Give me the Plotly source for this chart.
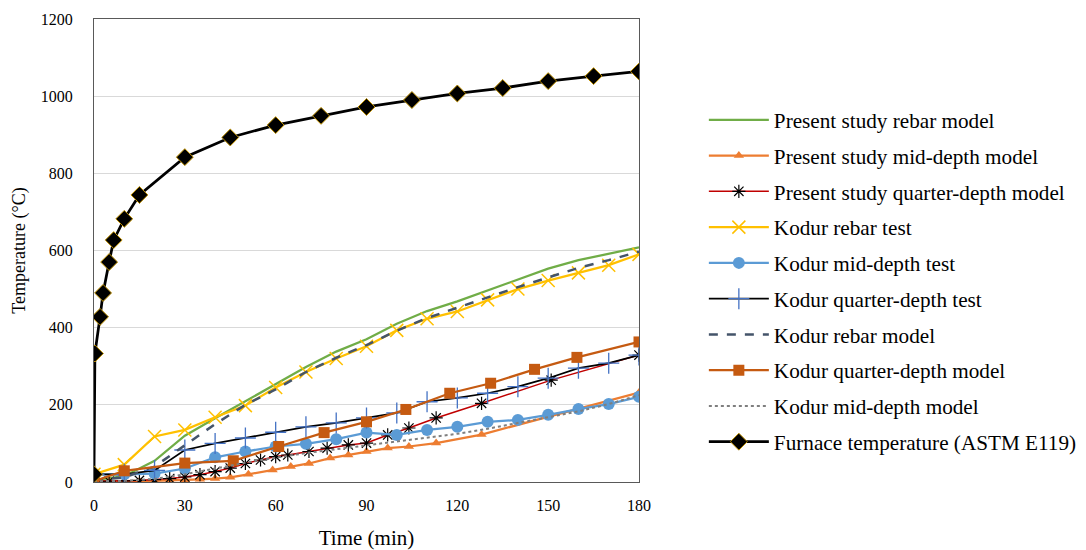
import plotly.graph_objects as go

# ---------------- data ----------------
furnace_t = [0, 0.3, 2, 3, 5, 6.5, 10, 15, 30, 45, 60, 75, 90, 105, 120, 135, 150, 165, 180]
furnace_T = [20, 333, 428, 490, 570, 627, 682, 744, 842, 893, 925, 949, 972, 990, 1007, 1021, 1039, 1052, 1064]

t10 = [0, 10, 20, 30, 40, 50, 60, 70, 80, 90, 100, 110, 120, 130, 140, 150, 160, 170, 180]

ps_rebar_T = [5, 15, 55, 120, 165, 210, 255, 298, 338, 370, 410, 443, 468, 497, 524, 553, 575, 592, 608]

ps_mid_t = [0, 5, 10, 15, 20, 25, 30, 35, 40, 45, 51, 59, 65, 71, 78, 84, 90, 97, 104, 113, 128, 180]
ps_mid_T = [2, 2, 2, 2, 3, 4, 5, 7, 9, 12, 20, 31, 40, 48, 62, 70, 79, 88, 92, 101, 123, 232]

ps_quarter_t = [0, 5, 10, 15, 20, 25, 30, 35, 40, 45, 50, 55, 60, 64, 71, 77, 84, 90, 97, 104, 113, 128, 151, 180]
ps_quarter_T = [2, 2, 3, 4, 6, 9, 13, 19, 27, 36, 48, 57, 66, 70, 79, 88, 96, 101, 122, 140, 166, 204, 264, 329]

kodur_rebar_test_T = [20, 45, 118, 135, 168, 198, 245, 285, 320, 352, 393, 423, 442, 472, 500, 522, 542, 562, 590]
kodur_mid_test_T = [20, 20, 22, 35, 64, 79, 92, 99, 111, 128, 122, 135, 143, 156, 161, 174, 189, 202, 221]
kodur_quarter_test_T = [20, 20, 30, 83, 100, 114, 129, 143, 153, 166, 179, 208, 218, 230, 247, 269, 295, 308, 329]
kodur_rebar_model_T = [5, 12, 40, 95, 150, 200, 240, 285, 322, 355, 392, 425, 452, 478, 505, 530, 555, 575, 597]

kodur_quarter_model_t = [0, 10, 30, 46, 61, 76, 90, 103, 117.5, 131, 145.5, 159.5, 180]
kodur_quarter_model_T = [2, 29, 49, 55, 92, 128, 156, 188, 230, 256, 292, 323, 363]

kodur_mid_model_T = [2, 3, 8, 20, 35, 50, 63, 75, 85, 95, 105, 115, 125, 138, 153, 168, 183, 202, 225]

x_ticks = [0, 30, 60, 90, 120, 150, 180]
y_ticks = [0, 200, 400, 600, 800, 1000, 1200]

FONT = "Liberation Serif, Times New Roman, serif"

fig = go.Figure()

def add(name, x, y, color, width=2.25, dash="solid", mode="lines", marker=None):
    fig.add_trace(go.Scatter(
        x=x, y=y, name=name, mode=mode, legendgroup=name,
        line=dict(color=color, width=width, dash=dash),
        marker=marker if marker else dict(),
    ))

add("Present study rebar model", t10, ps_rebar_T, "#70AD47")
add("Present study mid-depth model", ps_mid_t, ps_mid_T, "#ED7D31", mode="lines+markers",
    marker=dict(symbol="triangle-up", size=9, color="#ED7D31"))
add("Present study quarter-depth model", ps_quarter_t, ps_quarter_T, "#C00000", width=1.5,
    mode="lines+markers",
    marker=dict(symbol="asterisk-open", size=11, color="#000000", line=dict(color="#000000", width=1.2)))
add("Kodur rebar test", t10, kodur_rebar_test_T, "#FFC000", mode="lines+markers",
    marker=dict(symbol="x-thin-open", size=13, color="#FFC000", line=dict(color="#FFC000", width=1.5)))
add("Kodur mid-depth test", t10, kodur_mid_test_T, "#5B9BD5", mode="lines+markers",
    marker=dict(symbol="circle", size=12, color="#5B9BD5"))
add("Kodur quarter-depth test", t10, kodur_quarter_test_T, "#000000", width=1.75, mode="lines+markers",
    marker=dict(symbol="cross-thin-open", size=15, color="#4472C4", line=dict(color="#4472C4", width=1.3)))
add("Kodur rebar model", t10, kodur_rebar_model_T, "#44546A", width=2.5, dash="dash")
add("Kodur quarter-depth model", kodur_quarter_model_t, kodur_quarter_model_T, "#C55A11", mode="lines+markers",
    marker=dict(symbol="square", size=11, color="#C55A11"))
add("Kodur mid-depth model", t10, kodur_mid_model_T, "#7F7F7F", width=2, dash="dot")
add("Furnace temperature (ASTM E119)", furnace_t, furnace_T, "#000000", width=2.75, mode="lines+markers",
    marker=dict(symbol="diamond", size=13, color="#000000", line=dict(color="#BF9000", width=1)))

fig.update_layout(
    width=1078, height=542,
    margin=dict(l=86, r=447, t=11, b=68, autoexpand=False),
    paper_bgcolor="white", plot_bgcolor="white",
    font=dict(family=FONT, size=16, color="#000000"),
    showlegend=True,
    legend=dict(
        x=1.119, y=0.826, xanchor="left", yanchor="top",
        font=dict(family=FONT, size=21.2, color="#000000"),
        itemwidth=60, tracegroupgap=5.2, bgcolor="rgba(0,0,0,0)",
    ),
    xaxis=dict(
        range=[0, 180], tickvals=x_ticks, ticktext=[str(v) for v in x_ticks],
        showgrid=False, zeroline=False,
        showline=True, mirror=True, linecolor="#595959", linewidth=1,
        ticks="", ticklabelstandoff=9, tickfont=dict(family=FONT, size=16, color="#000000"),
        title=dict(text="Time (min)", font=dict(family=FONT, size=21, color="#000000"), standoff=18),
    ),
    yaxis=dict(
        range=[0, 1200], tickvals=y_ticks, ticktext=[str(v) for v in y_ticks],
        showgrid=True, gridcolor="#D9D9D9", gridwidth=1, zeroline=False,
        showline=True, mirror=True, linecolor="#595959", linewidth=1,
        ticks="", ticklabelstandoff=17, tickfont=dict(family=FONT, size=16, color="#000000"),
        title=dict(text="Temperature (°C)", font=dict(family=FONT, size=18, color="#000000"), standoff=10),
    ),
)

fig.write_html("out.html")
